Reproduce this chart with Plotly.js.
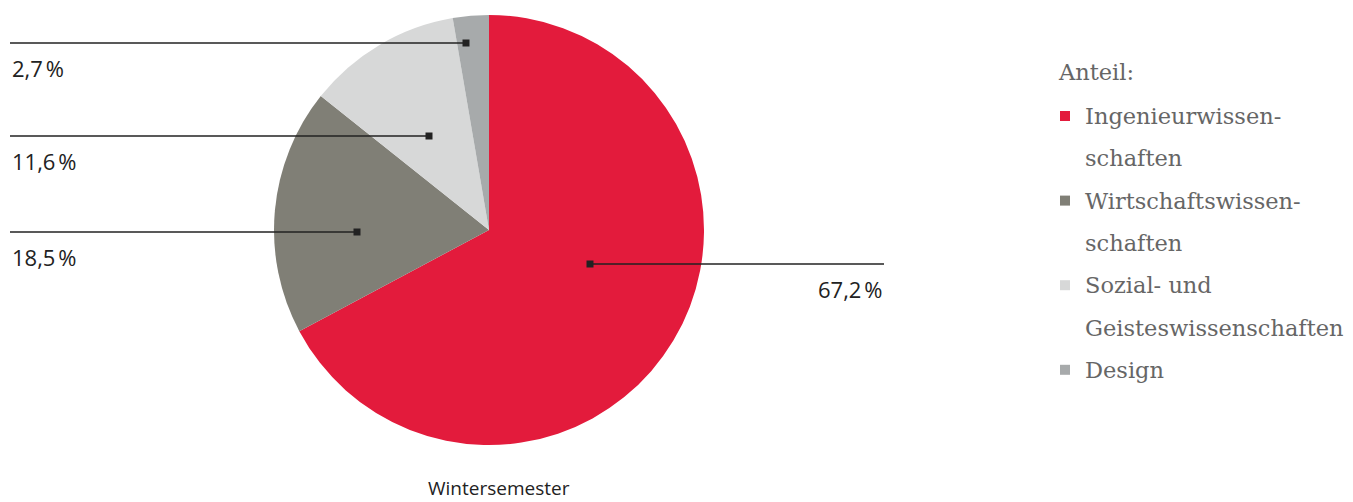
<!DOCTYPE html>
<html><head><meta charset="utf-8">
<script src="https://cdn.plot.ly/plotly-3.0.1.min.js"></script>
<style>html,body{margin:0;padding:0;background:#fff;}#chart{width:1353px;height:502px;}</style>
</head><body><div id="chart"></div>
<script>
// Data
const categories = ["Ingenieurwissenschaften", "Wirtschaftswissenschaften", "Sozial- und Geisteswissenschaften", "Design"];
const values = [67.2, 18.5, 11.6, 2.7];
const valueLabels = ["67,2\u202F%", "18,5\u202F%", "11,6\u202F%", "2,7\u202F%"];
const legendLabels = ["Ingenieurwissen-<br>schaften", "Wirtschaftswissen-<br>schaften", "Sozial- und<br>Geisteswissenschaften", "Design"];
const legendTitle = "Anteil:";
const chartTitle = "Wintersemester";
const colors = ["#E31B3C", "#807F76", "#D7D8D8", "#A7AAAB"];

const W = 1353, H = 502;
const px = x => x / W;
const py = y => 1 - y / H;

// pie geometry (pixels)
const cx = 489, cy = 230, R = 215;

// leader line layout (pixels): marker point, line end, label side
const leaders = [
  {mx: 590, my: 264, ex: 884, side: "right"},
  {mx: 357, my: 232, ex: 10, side: "left"},
  {mx: 429, my: 136, ex: 10, side: "left"},
  {mx: 466, my: 43, ex: 10, side: "left"}
];

const shapes = [], annotations = [];
leaders.forEach((L, i) => {
  shapes.push({type: "line", xref: "paper", yref: "paper",
    x0: px(L.ex), x1: px(L.mx), y0: py(L.my), y1: py(L.my),
    line: {color: "#222", width: 1.5}});
  shapes.push({type: "rect", xref: "paper", yref: "paper",
    x0: px(L.mx - 3.5), x1: px(L.mx + 3.5), y0: py(L.my + 3.5), y1: py(L.my - 3.5),
    fillcolor: "#222", line: {width: 0}});
  annotations.push({xref: "paper", yref: "paper",
    x: px(L.ex), y: py(L.my + 25),
    xanchor: L.side === "left" ? "left" : "right", yanchor: "middle",
    text: valueLabels[i], showarrow: false,
    font: {family: "Open Sans, Noto Sans, sans-serif", size: 22, color: "#222"}});
});

// title
annotations.push({xref: "paper", yref: "paper", x: px(cx + 10), y: py(488),
  xanchor: "center", yanchor: "middle", text: chartTitle, showarrow: false,
  font: {family: "Open Sans, Noto Sans, sans-serif", size: 19, color: "#222"}});

// custom legend
const legFont = {family: "DejaVu Serif, Liberation Serif, serif", size: 22.5, color: "#666"};
annotations.push({xref: "paper", yref: "paper", x: px(1056), y: py(72),
  xanchor: "left", yanchor: "middle", text: legendTitle, showarrow: false, font: legFont});
let row = 0;
const rowY = r => 116 + r * 42.3;
categories.forEach((c, i) => {
  const y = rowY(row);
  shapes.push({type: "rect", xref: "paper", yref: "paper",
    x0: px(1060), x1: px(1070), y0: py(y + 5), y1: py(y - 5),
    fillcolor: colors[i], line: {width: 0}});
  const lines = legendLabels[i].split("<br>");
  lines.forEach((t, k) => {
    annotations.push({xref: "paper", yref: "paper", x: px(1083), y: py(rowY(row + k)),
      xanchor: "left", yanchor: "middle", text: t, showarrow: false, font: legFont});
  });
  row += lines.length;
});

const trace = {
  type: "pie", labels: categories, values: values, sort: false,
  direction: "clockwise", rotation: 0,
  marker: {colors: colors, line: {width: 0}},
  textinfo: "none", hoverinfo: "label+percent",
  domain: {x: [px(cx - R), px(cx + R)], y: [py(cy + R), py(cy - R)]},
  showlegend: false
};

Plotly.newPlot("chart", [trace], {
  width: W, height: H, margin: {l: 0, r: 0, t: 0, b: 0},
  paper_bgcolor: "#fff", plot_bgcolor: "#fff",
  shapes: shapes, annotations: annotations, showlegend: false
}, {displayModeBar: false, staticPlot: true});
</script></body></html>
